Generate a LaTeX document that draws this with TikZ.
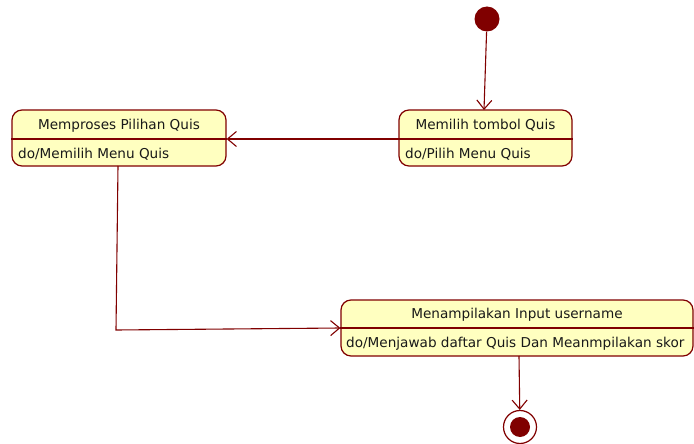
\documentclass[tikz,border=0pt]{standalone}
\usepackage{fontspec}
\setmainfont{DejaVu Sans}
\usetikzlibrary{arrows.meta}
\definecolor{umlred}{RGB}{128,0,0}
\definecolor{umlfill}{RGB}{255,255,192}
\tikzset{
  statebox/.style={draw=umlred, fill=umlfill, line width=1.2pt, rounded corners=10pt, inner sep=0pt},
  divider/.style={draw=umlred, line width=1.2pt},
  flow/.style={draw=umlred, line width=1.1pt, -{Straight Barb[length=9pt,width=15pt,line width=1.1pt]}},
  label/.style={font=\fontsize{13.6}{15}\selectfont, text=black!90, inner sep=0pt, anchor=base},
  body/.style={font=\fontsize{13.6}{15}\selectfont, text=black!90, inner sep=0pt, anchor=base west},
}
\begin{document}
\begin{tikzpicture}[x=1pt,y=-1pt]
\useasboundingbox (0,0) rectangle (694,444);

% initial pseudo-state
\node[circle, fill=umlred, minimum size=25pt, inner sep=0pt] (start) at (487,19) {};

% state: Memilih tombol Quis
\node[statebox, minimum width=173pt, minimum height=56pt] (s1) at (485.5,138) {};
\draw[divider] (s1.west |- 0,139) -- (s1.east |- 0,139);
\node[label] (s1t) at (485.5,129.5) {Memilih tombol Quis};
\node[body] (s1b) at (405,158) {do/Pilih Menu Quis};

% state: Memproses Pilihan Quis
\node[statebox, minimum width=214pt, minimum height=56pt] (s2) at (119,138) {};
\draw[divider] (s2.west |- 0,139) -- (s2.east |- 0,139);
\node[label] (s2t) at (119,129.5) {Memproses Pilihan Quis};
\node[body] (s2b) at (18,158) {do/Memilih Menu Quis};

% state: Menampilakan Input username
\node[statebox, minimum width=352pt, minimum height=56pt] (s3) at (517,328) {};
\draw[divider] (s3.west |- 0,328) -- (s3.east |- 0,328);
\node[label] (s3t) at (517,318.5) {Menampilakan Input username};
\node[body] (s3b) at (346,347) {do/Menjawab daftar Quis Dan Meanmpilakan skor};

% final pseudo-state
\node[circle, draw=umlred, fill=white, line width=1.2pt, minimum size=33pt, inner sep=0pt] (end) at (520,427) {};
\node[circle, fill=umlred, minimum size=20pt, inner sep=0pt] (endcore) at (end.center) {};

% transitions
\coordinate (s1in) at (484,110);
\draw[flow] (start) -- (s1in);
\draw[flow] (s1.west |- 0,139) -- (s2.east |- 0,139);
\coordinate (bend) at (116,330);
\draw[flow] (118,166) -- (bend) -- (s3.west |- 0,328);
\draw[flow] (519,356) -- (end);
\end{tikzpicture}
\end{document}
